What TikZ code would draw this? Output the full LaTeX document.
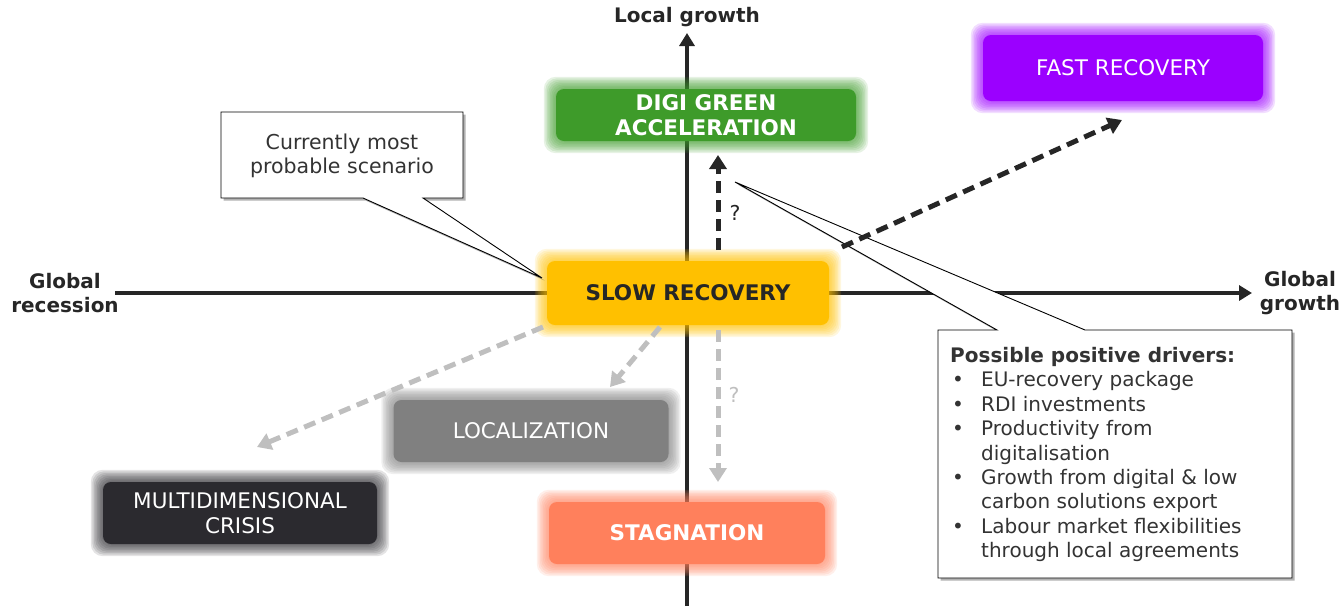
\documentclass[tikz,border=0pt]{standalone}
\usepackage{fontspec}
\setmainfont{DejaVu Sans}
\usetikzlibrary{arrows.meta,shadows}
\pgfdeclarelayer{axes}
\pgfdeclarelayer{glow}
\pgfsetlayers{axes,glow,main}
\definecolor{axisc}{RGB}{38,38,38}
\definecolor{textc}{RGB}{51,51,51}
\definecolor{greenc}{RGB}{62,155,42}
\definecolor{slowc}{RGB}{255,192,0}
\definecolor{purplec}{RGB}{155,0,255}
\definecolor{locc}{RGB}{128,128,128}
\definecolor{multic}{RGB}{43,42,47}
\definecolor{stagc}{RGB}{255,128,92}
\definecolor{lgray}{RGB}{191,191,191}
\newcommand\glowbox[2]{%
  \foreach \k in {1,...,8}{%
    \fill[#2,opacity=.13,rounded corners=12pt]
      ([shift={(-\k*1.5pt,-\k*1.5pt)}]#1.south west) rectangle
      ([shift={(\k*1.5pt,\k*1.5pt)}]#1.north east);}}
\tikzset{
  scen/.style={rounded corners=8pt,inner sep=0pt,align=center},
  boxfont/.style={font=\fontsize{21.5}{25}\selectfont},
  boxbold/.style={font=\bfseries\fontsize{21.5}{25}\selectfont},
  axislabel/.style={font=\bfseries\fontsize{20}{24}\selectfont,text=axisc,align=center,inner sep=0pt},
  axisline/.style={draw=axisc,line width=3.5pt,-{Triangle[length=13pt,width=15pt]}},
  darkdash/.style={draw=axisc,line width=5pt,dash pattern=on 12pt off 7pt,-{Triangle[length=14pt,width=17pt]}},
  graydash/.style={draw=lgray,line width=5pt,dash pattern=on 12pt off 7pt,-{Triangle[length=14pt,width=17pt]}},
  callout/.style={draw=black,line width=0.9pt,fill=white,drop shadow={shadow xshift=2.5pt,shadow yshift=-2.5pt,opacity=.3,fill=black}},
  calltext/.style={font=\fontsize{20.5}{24}\selectfont,text=textc,align=center,inner sep=0pt},
}
\begin{document}
\begin{tikzpicture}[x=1pt,y=-1pt]
\useasboundingbox (0,0) rectangle (1342,606);
% axes
\coordinate (vbot) at (687,606);
\coordinate (vtop) at (687,33);
\coordinate (hleft) at (115,293);
\coordinate (hright) at (1252,293);
\begin{pgfonlayer}{axes}
\draw[axisline] (vbot) -- (vtop);
\draw[axisline] (hleft) -- (hright);
\end{pgfonlayer}
\node[axislabel] (lg) at (687,17) {Local growth};
\node[axislabel] (gr) at (65,293) {Global\\recession};
\node[axislabel] (gg) at (1300,293) {Global\\growth};
% scenario boxes
\node[scen,boxbold,fill=slowc,minimum width=282pt,minimum height=64pt,text=axisc] (slow) at (688,293) {SLOW RECOVERY};
\node[scen,fill=greenc,minimum width=300pt,minimum height=52pt,text=white,font=\bfseries\fontsize{21.5}{25}\selectfont] (green) at (706,115) {DIGI GREEN\\ACCELERATION};
\node[scen,boxfont,fill=purplec,minimum width=280pt,minimum height=66pt,text=white] (fast) at (1123,68) {FAST RECOVERY};
\node[scen,boxfont,fill=locc,minimum width=275pt,minimum height=62pt,text=white] (loc) at (531,431) {LOCALIZATION};
\node[scen,boxfont,fill=multic,minimum width=274pt,minimum height=62pt,text=white] (multi) at (240,513) {MULTIDIMENSIONAL\\CRISIS};
\node[scen,boxbold,fill=stagc,minimum width=276pt,minimum height=62pt,text=white] (stag) at (687,533) {STAGNATION};
\begin{pgfonlayer}{glow}
\glowbox{slow}{slowc}
\glowbox{green}{greenc}
\glowbox{fast}{purplec}
\glowbox{loc}{locc}
\glowbox{multi}{multic}
\glowbox{stag}{stagc}
\end{pgfonlayer}
% callout: currently most probable
\coordinate (tipA) at (542,278);
\draw[callout] (221,112) -- (463,112) -- (463,198) -- (423,198) -- (tipA) -- (363,198) -- (221,198) -- cycle;
\node[calltext] (cur) at (342,156) {Currently most\\probable scenario};
% callout: drivers
\coordinate (tipB) at (735,182);
\draw[callout] (938,330) -- (997,330) -- (tipB) -- (1085,330) -- (1292,330) -- (1292,578) -- (938,578) -- cycle;
\node[anchor=north west,inner sep=0pt,align=left,text=textc,font=\fontsize{20}{24.4}\selectfont] (drv) at (950,347)
{\textbf{Possible positive drivers:}\\
\makebox[31pt][l]{\hspace{2pt}•}EU-recovery package\\
\makebox[31pt][l]{\hspace{2pt}•}RDI investments\\
\makebox[31pt][l]{\hspace{2pt}•}Productivity from\\
\hspace*{31pt}digitalisation\\
\makebox[31pt][l]{\hspace{2pt}•}Growth from digital \& low\\
\hspace*{31pt}carbon solutions export\\
\makebox[31pt][l]{\hspace{2pt}•}Labour market flexibilities\\
\hspace*{31pt}through local agreements};
% dashed arrows
\coordinate (up0) at (718,250);
\coordinate (up1) at (718,155);
\draw[darkdash] (up0) -- (up1);
\node[calltext,text=axisc] (q1) at (735,213) {?};
\coordinate (fr0) at (842,247);
\coordinate (fr1) at (1122,120);
\draw[darkdash] (fr0) -- (fr1);
\coordinate (g0) at (543,327);
\coordinate (g1) at (257,447);
\draw[graydash] (g0) -- (g1);
\coordinate (l0) at (660,327);
\coordinate (l1) at (610,387);
\draw[graydash] (l0) -- (l1);
\coordinate (s0) at (718,330);
\coordinate (s1) at (718,482);
\draw[graydash] (s0) -- (s1);
\node[calltext,text=lgray] (q2) at (734,395) {?};
\end{tikzpicture}
\end{document}
